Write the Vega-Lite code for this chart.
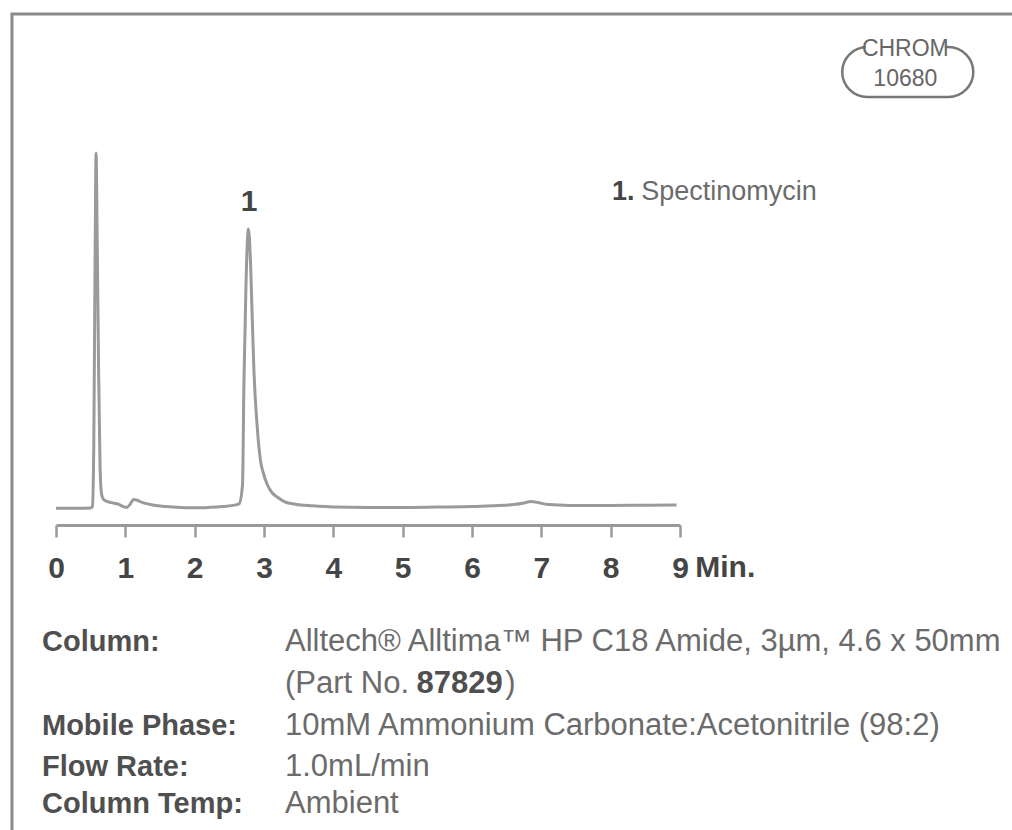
{
  "$schema": "https://vega.github.io/schema/vega-lite/v6.json",
  "width": 624,
  "height": 400,
  "autosize": {"type": "none"},
  "padding": {"left": 56, "top": 125, "right": 332, "bottom": 305},
  "background": "white",
  "config": {
    "view": {"stroke": null},
    "font": "Liberation Sans",
    "axisY": {"disable": true}
  },
  "layer": [
    {
      "data": {"values": [{}]},
      "mark": {"type": "rect", "fill": "transparent", "stroke": "#8a8a8a", "strokeWidth": 3},
      "encoding": {
        "x": {"datum": -0.635, "type": "quantitative"},
        "x2": {"datum": 15},
        "y": {"datum": 127.75, "type": "quantitative"},
        "y2": {"datum": -95}
      }
    },
    {
      "data": {"values": [
        {"t": 0, "v": 4.2}, {"t": 0.3, "v": 4.2}, {"t": 0.5, "v": 4.25}, {"t": 0.525, "v": 4.6},
        {"t": 0.545, "v": 20}, {"t": 0.565, "v": 70}, {"t": 0.578, "v": 93}, {"t": 0.595, "v": 70},
        {"t": 0.615, "v": 38}, {"t": 0.635, "v": 15}, {"t": 0.655, "v": 8}, {"t": 0.68, "v": 6.5},
        {"t": 0.72, "v": 6}, {"t": 0.8, "v": 5.6}, {"t": 0.9, "v": 5.2}, {"t": 0.97, "v": 4.6},
        {"t": 1.02, "v": 4.4}, {"t": 1.07, "v": 5.2}, {"t": 1.12, "v": 6.4}, {"t": 1.17, "v": 6.2},
        {"t": 1.25, "v": 5.6}, {"t": 1.4, "v": 5.0}, {"t": 1.6, "v": 4.6}, {"t": 1.8, "v": 4.4},
        {"t": 2.0, "v": 4.3}, {"t": 2.2, "v": 4.4}, {"t": 2.4, "v": 4.6}, {"t": 2.55, "v": 4.9},
        {"t": 2.64, "v": 5.3}, {"t": 2.69, "v": 10}, {"t": 2.71, "v": 35}, {"t": 2.74, "v": 60},
        {"t": 2.775, "v": 74}, {"t": 2.8, "v": 68}, {"t": 2.83, "v": 52}, {"t": 2.856, "v": 38},
        {"t": 2.9, "v": 25}, {"t": 2.95, "v": 16}, {"t": 2.99, "v": 13}, {"t": 3.05, "v": 10},
        {"t": 3.12, "v": 8}, {"t": 3.19, "v": 7}, {"t": 3.3, "v": 5.8}, {"t": 3.45, "v": 5.2},
        {"t": 3.7, "v": 4.8}, {"t": 4.0, "v": 4.5}, {"t": 4.5, "v": 4.4}, {"t": 5.0, "v": 4.4},
        {"t": 5.5, "v": 4.5}, {"t": 6.0, "v": 4.6}, {"t": 6.3, "v": 4.8}, {"t": 6.6, "v": 5.1},
        {"t": 6.75, "v": 5.5}, {"t": 6.85, "v": 5.9}, {"t": 6.95, "v": 5.6}, {"t": 7.1, "v": 5.1},
        {"t": 7.4, "v": 4.9}, {"t": 8.0, "v": 4.9}, {"t": 8.5, "v": 4.95}, {"t": 8.95, "v": 5}
      ]},
      "mark": {"type": "line", "color": "#9a9a9a", "strokeWidth": 3, "interpolate": "monotone"},
      "encoding": {
        "x": {
          "field": "t", "type": "quantitative",
          "scale": {"domain": [0, 9]},
          "axis": {
            "title": null, "values": [0,1,2,3,4,5,6,7,8,9], "format": "d", "grid": false,
            "domainColor": "#9a9a9a", "domainWidth": 3,
            "tickColor": "#9a9a9a", "tickWidth": 2.5, "tickSize": 12,
            "labelFont": "Liberation Sans", "labelFontSize": 30, "labelFontWeight": "bold",
            "labelColor": "#454545", "labelBaseline": "alphabetic", "labelPadding": 40,
            "labelFlush": false, "labelOverlap": false
          }
        },
        "y": {"field": "v", "type": "quantitative", "scale": {"domain": [0, 100]}, "axis": null}
      }
    },
    {
      "data": {"values": [{}]},
      "mark": {"type": "text", "text": "1", "align": "center", "baseline": "alphabetic", "fontSize": 30, "fontWeight": "bold", "color": "#454545"},
      "encoding": {"x": {"datum": 2.784, "type": "quantitative"}, "y": {"datum": 78.5, "type": "quantitative"}}
    },
    {
      "data": {"values": [{}]},
      "mark": {"type": "text", "text": "Min.", "align": "left", "baseline": "alphabetic", "fontSize": 30, "fontWeight": "bold", "color": "#454545"},
      "encoding": {"x": {"datum": 9.22, "type": "quantitative"}, "y": {"datum": -13, "type": "quantitative"}}
    },
    {
      "data": {"values": [{}]},
      "mark": {"type": "text", "text": "1.", "align": "left", "baseline": "alphabetic", "fontSize": 27, "fontWeight": "bold", "color": "#454545"},
      "encoding": {"x": {"datum": 8.02, "type": "quantitative"}, "y": {"datum": 81.25, "type": "quantitative"}}
    },
    {
      "data": {"values": [{}]},
      "mark": {"type": "text", "text": "Spectinomycin", "align": "left", "baseline": "alphabetic", "fontSize": 27, "color": "#6b6b6b"},
      "encoding": {"x": {"datum": 8.44, "type": "quantitative"}, "y": {"datum": 81.25, "type": "quantitative"}}
    },
    {
      "data": {"values": [{}]},
      "mark": {"type": "rect", "fill": "white", "stroke": "#777777", "strokeWidth": 2.5, "cornerRadius": 25},
      "encoding": {
        "x": {"datum": 11.34, "type": "quantitative"}, "x2": {"datum": 13.23},
        "y": {"datum": 119.5, "type": "quantitative"}, "y2": {"datum": 107}
      }
    },
    {
      "data": {"values": [{}]},
      "mark": {"type": "rect", "fill": "white"},
      "encoding": {
        "x": {"datum": 11.68, "type": "quantitative"}, "x2": {"datum": 12.82},
        "y": {"datum": 121.5, "type": "quantitative"}, "y2": {"datum": 117.5}
      }
    },
    {
      "data": {"values": [{}]},
      "mark": {"type": "text", "text": "CHROM", "align": "center", "baseline": "alphabetic", "fontSize": 23, "color": "#666666"},
      "encoding": {"x": {"datum": 12.25, "type": "quantitative"}, "y": {"datum": 117.25, "type": "quantitative"}}
    },
    {
      "data": {"values": [{}]},
      "mark": {"type": "text", "text": "10680", "align": "center", "baseline": "alphabetic", "fontSize": 23, "color": "#666666"},
      "encoding": {"x": {"datum": 12.25, "type": "quantitative"}, "y": {"datum": 109.75, "type": "quantitative"}}
    },
    {
      "data": {"values": [{}]},
      "mark": {"type": "text", "text": "Column:", "align": "left", "baseline": "alphabetic", "fontSize": 29, "fontWeight": "bold", "color": "#4f4f4f"},
      "encoding": {"x": {"datum": -0.202, "type": "quantitative"}, "y": {"datum": -31.5, "type": "quantitative"}}
    },
    {
      "data": {"values": [{}]},
      "mark": {"type": "text", "text": "Alltech® Alltima™ HP C18 Amide, 3µm, 4.6 x 50mm", "align": "left", "baseline": "alphabetic", "fontSize": 31, "color": "#6b6b6b"},
      "encoding": {"x": {"datum": 3.303, "type": "quantitative"}, "y": {"datum": -31.5, "type": "quantitative"}}
    },
    {
      "data": {"values": [{}]},
      "mark": {"type": "text", "text": "(Part No.", "align": "left", "baseline": "alphabetic", "fontSize": 31, "color": "#6b6b6b"},
      "encoding": {"x": {"datum": 3.303, "type": "quantitative"}, "y": {"datum": -42, "type": "quantitative"}}
    },
    {
      "data": {"values": [{}]},
      "mark": {"type": "text", "text": "87829", "align": "left", "baseline": "alphabetic", "fontSize": 31, "fontWeight": "bold", "color": "#4f4f4f"},
      "encoding": {"x": {"datum": 5.2, "type": "quantitative"}, "y": {"datum": -42, "type": "quantitative"}}
    },
    {
      "data": {"values": [{}]},
      "mark": {"type": "text", "text": ")", "align": "left", "baseline": "alphabetic", "fontSize": 31, "color": "#6b6b6b"},
      "encoding": {"x": {"datum": 6.48, "type": "quantitative"}, "y": {"datum": -42, "type": "quantitative"}}
    },
    {
      "data": {"values": [{}]},
      "mark": {"type": "text", "text": "Mobile Phase:", "align": "left", "baseline": "alphabetic", "fontSize": 29, "fontWeight": "bold", "color": "#4f4f4f"},
      "encoding": {"x": {"datum": -0.202, "type": "quantitative"}, "y": {"datum": -52.5, "type": "quantitative"}}
    },
    {
      "data": {"values": [{}]},
      "mark": {"type": "text", "text": "10mM Ammonium Carbonate:Acetonitrile (98:2)", "align": "left", "baseline": "alphabetic", "fontSize": 31, "color": "#6b6b6b"},
      "encoding": {"x": {"datum": 3.303, "type": "quantitative"}, "y": {"datum": -52.5, "type": "quantitative"}}
    },
    {
      "data": {"values": [{}]},
      "mark": {"type": "text", "text": "Flow Rate:", "align": "left", "baseline": "alphabetic", "fontSize": 29, "fontWeight": "bold", "color": "#4f4f4f"},
      "encoding": {"x": {"datum": -0.202, "type": "quantitative"}, "y": {"datum": -62.75, "type": "quantitative"}}
    },
    {
      "data": {"values": [{}]},
      "mark": {"type": "text", "text": "1.0mL/min", "align": "left", "baseline": "alphabetic", "fontSize": 31, "color": "#6b6b6b"},
      "encoding": {"x": {"datum": 3.303, "type": "quantitative"}, "y": {"datum": -62.75, "type": "quantitative"}}
    },
    {
      "data": {"values": [{}]},
      "mark": {"type": "text", "text": "Column Temp:", "align": "left", "baseline": "alphabetic", "fontSize": 29, "fontWeight": "bold", "color": "#4f4f4f"},
      "encoding": {"x": {"datum": -0.202, "type": "quantitative"}, "y": {"datum": -72, "type": "quantitative"}}
    },
    {
      "data": {"values": [{}]},
      "mark": {"type": "text", "text": "Ambient", "align": "left", "baseline": "alphabetic", "fontSize": 31, "color": "#6b6b6b"},
      "encoding": {"x": {"datum": 3.303, "type": "quantitative"}, "y": {"datum": -72, "type": "quantitative"}}
    }
  ]
}
